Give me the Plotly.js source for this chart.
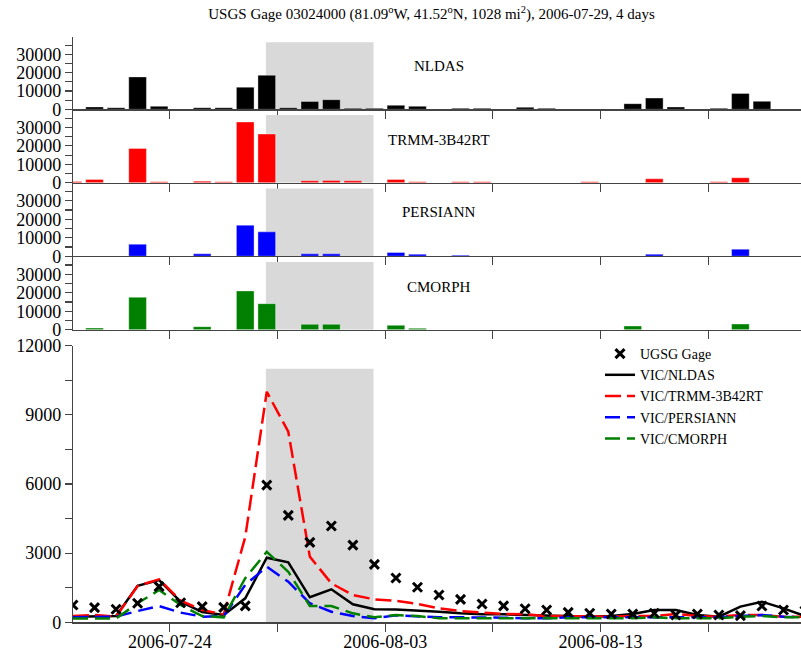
<!DOCTYPE html>
<html>
<head>
<meta charset="utf-8">
<script src="https://cdn.plot.ly/plotly-3.0.1.min.js"></script>
<style>
  html, body { margin: 0; padding: 0; overflow: hidden; background: #fff; }
  #chart { width: 820px; height: 653px; }
</style>
</head>
<body>
<div id="chart"></div>
<script>
// Daily time stamps (values are daily means, plotted at midday)
const days = [
  '2006-07-19 12:00','2006-07-20 12:00','2006-07-21 12:00','2006-07-22 12:00','2006-07-23 12:00',
  '2006-07-24 12:00','2006-07-25 12:00','2006-07-26 12:00','2006-07-27 12:00','2006-07-28 12:00',
  '2006-07-29 12:00','2006-07-30 12:00','2006-07-31 12:00','2006-08-01 12:00','2006-08-02 12:00',
  '2006-08-03 12:00','2006-08-04 12:00','2006-08-05 12:00','2006-08-06 12:00','2006-08-07 12:00',
  '2006-08-08 12:00','2006-08-09 12:00','2006-08-10 12:00','2006-08-11 12:00','2006-08-12 12:00',
  '2006-08-13 12:00','2006-08-14 12:00','2006-08-15 12:00','2006-08-16 12:00','2006-08-17 12:00',
  '2006-08-18 12:00','2006-08-19 12:00','2006-08-20 12:00','2006-08-21 12:00','2006-08-22 12:00'
];

// Basin precipitation volume per product (null = no rain)
const rainNLDAS = [null,1300,900,17700,1630,null,900,900,12100,18600,900,4300,5250,540,540,
  2170,1630,null,540,540,null,1085,540,null,null,null,3075,6150,1270,null,540,8680,4340,null,null];
const rainTRMM = [700,1800,null,18600,540,null,900,540,32900,26400,null,1085,1270,1085,null,
  1800,540,null,540,540,null,null,null,null,540,null,null,2170,null,null,540,2710,null,null,null];
const rainPERSIANN = [null,null,null,6510,null,null,1270,null,16800,13200,null,1270,1270,null,null,
  2000,1085,null,540,null,null,null,null,null,null,null,null,1085,null,null,null,3800,null,null,null];
const rainCMORPH = [null,900,null,17540,null,null,1630,null,21000,14100,null,2900,2900,null,null,
  2350,720,null,null,null,null,null,null,null,null,null,1990,null,null,null,null,3075,null,null,null];

// Streamflow: observed gage and VIC simulations driven by each product
const flowGage = [750,635,565,825,1550,850,680,650,710,5950,4640,3470,4180,3350,2515,
  1920,1520,1185,995,795,710,590,535,430,390,360,360,390,315,360,315,290,705,535,490];
const flowNLDAS = [245,270,270,1580,1830,895,445,315,1040,2800,2600,1085,1430,780,565,
  560,520,460,390,345,345,315,290,245,245,270,360,535,535,315,245,680,895,605,270];
const flowTRMM = [270,315,245,1575,1865,935,535,340,3700,10000,8270,2850,1690,1185,995,
  935,795,605,490,420,360,345,270,270,245,245,270,270,360,270,245,315,315,245,245];
const flowPERSIANN = [215,215,245,490,705,420,245,270,1620,2410,1760,825,460,270,175,
  300,245,215,215,215,200,175,175,215,215,245,215,215,245,245,215,270,315,245,215];
const flowCMORPH = [160,160,160,825,1400,750,270,215,1910,3060,2195,705,705,390,215,
  315,270,175,175,175,145,145,145,145,175,175,175,215,175,175,175,245,270,215,215];

const panelNames = ['NLDAS', 'TRMM-3B42RT', 'PERSIANN', 'CMORPH'];
const panelColors = ['#000000', '#ff0000', '#0000ff', '#008000'];
const flowNames = ['UGSG Gage', 'VIC/NLDAS', 'VIC/TRMM-3B42RT', 'VIC/PERSIANN', 'VIC/CMORPH'];

// Event window and its shading heights
const eventStart = '2006-07-28 11:00';
const eventEnd = '2006-08-02 11:00';
const shadeRainTop = 36700;
const shadeFlowTop = 11000;

const FONT = '"Liberation Serif", "Times New Roman", Times, serif';
const H = 653;
const DAY = 86400000;
const xRange = ['2006-07-19 12:00', '2006-08-22 12:00'];

// vertical placement of panels in pixels (top, bottom) and panel-name rows
const barPanels = [[36.5, 109.3], [109.3, 182.8], [182.8, 256.2], [256.2, 329.7]];
const nameRows = [66, 140, 212, 287];
const flowPanel = [345.7, 622.3];
const dom = (p) => [1 - p[1] / H, 1 - p[0] / H];

const axisLine = '#444';
const baseX = {
  type: 'date', range: xRange, showgrid: false, zeroline: false,
  showline: true, linecolor: axisLine, linewidth: 1.2,
  ticks: 'outside', ticklen: 8, tickcolor: axisLine, tickwidth: 1.2,
  tick0: '2006-07-24', dtick: 10 * DAY, tickformat: '%Y-%m-%d',
  ticklabelstandoff: -5,
  minor: { tick0: '2006-07-24', dtick: 5 * DAY, ticks: 'outside', ticklen: 8, tickcolor: axisLine, tickwidth: 1.2, showgrid: false },
  tickfont: { family: FONT, size: 18, color: '#000' }
};
const baseY = {
  showgrid: false, zeroline: false, showline: true, linecolor: axisLine, linewidth: 1.2,
  ticks: 'outside', ticklen: 7, tickcolor: axisLine, tickwidth: 1.2, tickformat: 'd',
  tickfont: { family: FONT, size: 18, color: '#000' }
};

const rainSeries = [rainNLDAS, rainTRMM, rainPERSIANN, rainCMORPH];
const traces = [];
const layout = {
  width: 820, height: H,
  margin: { l: 73, r: 15, t: 0, b: 0 },
  paper_bgcolor: '#fff', plot_bgcolor: 'rgba(0,0,0,0)',
  font: { family: FONT, color: '#000' },
  showlegend: true,
  title: {
    text: 'USGS Gage 03024000 (81.09<sup>o</sup>W, 41.52<sup>o</sup>N, 1028 mi<sup>2</sup>), 2006-07-29, 4 days',
    font: { family: FONT, size: 15, color: '#000' },
    xref: 'container', x: 431.5 / 820, xanchor: 'center',
    yref: 'container', y: 1 - 14 / H, yanchor: 'middle'
  },
  legend: {
    x: (600 - 73) / 732, xanchor: 'left', y: 1 - 338 / H, yanchor: 'top',
    bgcolor: 'rgba(0,0,0,0)', borderwidth: 0,
    font: { family: FONT, size: 14, color: '#000' },
    traceorder: 'normal'
  },
  shapes: [], annotations: [], bargap: 0
};

// Line panel axes
layout.xaxis = Object.assign({}, baseX, { anchor: 'y', showticklabels: true });
layout.yaxis = Object.assign({}, baseY, {
  domain: dom(flowPanel), anchor: 'x', range: [0, 12000],
  tick0: 0, dtick: 3000,
  minor: { dtick: 1500, ticks: 'outside', ticklen: 7, tickcolor: axisLine, tickwidth: 1.2, showgrid: false }
});
layout.shapes.push({
  type: 'rect', xref: 'x', yref: 'y', x0: eventStart, x1: eventEnd, y0: 0, y1: shadeFlowTop,
  fillcolor: '#d9d9d9', line: { width: 0 }, layer: 'below'
});

// Precipitation panels
panelNames.forEach((name, i) => {
  const n = i + 2;
  const xa = 'x' + n, ya = 'y' + n;
  layout['xaxis' + n] = Object.assign({}, baseX, { anchor: ya, matches: 'x', showticklabels: false });
  layout['yaxis' + n] = Object.assign({}, baseY, {
    domain: dom(barPanels[i]), anchor: xa, range: [0, 39800],
    tick0: 0, dtick: 10000,
    minor: { dtick: 5000, ticks: 'outside', ticklen: 7, tickcolor: axisLine, tickwidth: 1.2, showgrid: false }
  });
  layout.shapes.push({
    type: 'rect', xref: xa, yref: ya, x0: eventStart, x1: eventEnd, y0: 0, y1: shadeRainTop,
    fillcolor: '#d9d9d9', line: { width: 0 }, layer: 'below'
  });
  layout.annotations.push({
    text: name, xref: 'paper', yref: 'paper', x: 0.5, y: 1 - nameRows[i] / H,
    xanchor: 'center', yanchor: 'middle', showarrow: false,
    font: { family: FONT, size: 15, color: '#000' }
  });
  traces.push({
    type: 'bar', x: days, y: rainSeries[i], xaxis: xa, yaxis: ya,
    width: 0.82 * DAY, showlegend: false, hoverinfo: 'skip',
    marker: { color: panelColors[i], line: { color: 'rgba(255,255,255,0.45)', width: 0.8 } }
  });
});

// Simulated and observed streamflow
const flowSeries = [flowNLDAS, flowTRMM, flowPERSIANN, flowCMORPH];
const dashes = ['solid', '16px,6px', '15px,7px', '15px,7px'];
flowSeries.forEach((s, i) => {
  traces.push({
    type: 'scatter', mode: 'lines', x: days, y: s, xaxis: 'x', yaxis: 'y',
    name: flowNames[i + 1], legendrank: i + 2,
    line: { color: panelColors[i], width: 2.5, dash: dashes[i] }
  });
});
traces.push({
  type: 'scatter', mode: 'markers', x: days, y: flowGage, xaxis: 'x', yaxis: 'y',
  name: flowNames[0], legendrank: 1,
  marker: { symbol: 'x-thin-open', size: 9, color: '#000', line: { color: '#000', width: 3 } }
});

Plotly.newPlot('chart', traces, layout, { displayModeBar: false, staticPlot: true });
</script>
</body>
</html>
